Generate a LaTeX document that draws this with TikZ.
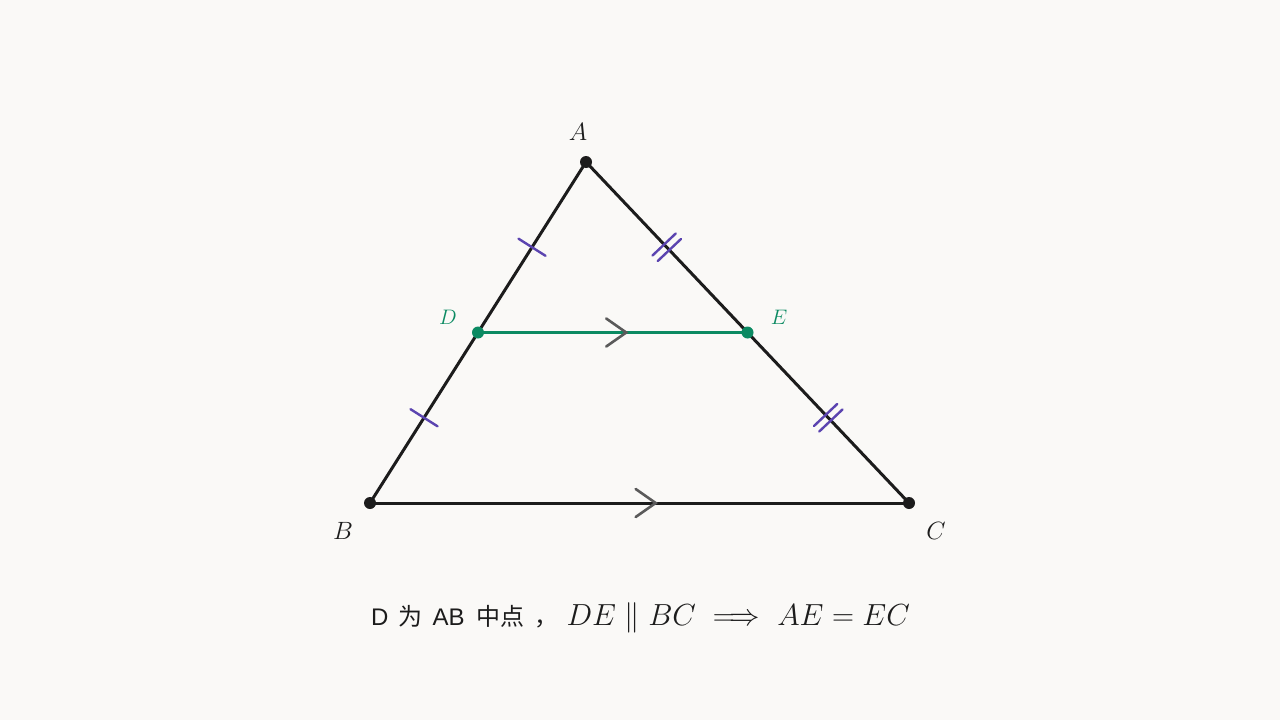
\RequirePackage{fix-cm}
\documentclass[tikz,border=0pt]{standalone}
\usepackage{amsmath}
\usepackage{fontspec}
\newfontfamily\cjk{Noto Sans CJK SC}
\newfontfamily\lsans{Liberation Sans}
\usetikzlibrary{decorations.markings,calc}
\definecolor{bgc}{HTML}{FAF9F7}
\definecolor{linec}{HTML}{1C1C1C}
\definecolor{tickc}{HTML}{5B44B0}
\definecolor{greenc}{HTML}{0B8A62}
\definecolor{chevc}{HTML}{5A5A5A}
\tikzset{
  side/.style={draw=linec, line width=3pt, line cap=round},
  midseg/.style={draw=greenc, line width=3pt},
  tickmark/.style={draw=tickc, line width=2.4pt},
  chev/.style={draw=chevc, line width=2.6pt, line cap=round, line join=miter},
  pt/.style={circle, fill=linec, inner sep=0pt, minimum size=12pt},
  gpt/.style={circle, fill=greenc, inner sep=0pt, minimum size=12pt},
  lbl/.style={font=\fontsize{25}{30}\selectfont, text=linec},
  glbl/.style={font=\fontsize{21}{25}\selectfont, text=greenc},
  onetick/.style={postaction={decorate}, decoration={markings,
     mark=at position 0.25 with {\draw[tickmark] (0,-16pt) -- (0,16pt);},
     mark=at position 0.75 with {\draw[tickmark] (0,-16pt) -- (0,16pt);}}},
  twotick/.style={postaction={decorate}, decoration={markings,
     mark=at position 0.25 with {\draw[tickmark] (-3.8pt,-16pt) -- (-3.8pt,16pt) (3.8pt,-16pt) -- (3.8pt,16pt);},
     mark=at position 0.75 with {\draw[tickmark] (-3.8pt,-16pt) -- (-3.8pt,16pt) (3.8pt,-16pt) -- (3.8pt,16pt);}}},
  chevmark/.style={postaction={decorate}, decoration={markings,
     mark=at position #1 with {\draw[chev] (-20pt,-14pt) -- (0,0) -- (-20pt,14pt);}}},
}
\begin{document}
\begin{tikzpicture}[x=1pt,y=-1pt]
\fill[bgc] (0,0) rectangle (1280,720);
\useasboundingbox (0,0) rectangle (1280,720);
\coordinate (A) at (586,162);
\coordinate (B) at (370,503);
\coordinate (C) at (909,503);
\coordinate (D) at ($(A)!0.5!(B)$);
\coordinate (E) at ($(A)!0.5!(C)$);
\path[side, onetick] (A) -- (B);
\path[side, twotick] (A) -- (C);
\path[side, chevmark=0.53] (B) -- (C);
\path[midseg, chevmark=0.55] (D) -- (E);
\node[pt] (pA) at (A) {};
\node[pt] (pB) at (B) {};
\node[pt] (pC) at (C) {};
\node[gpt] (pD) at (D) {};
\node[gpt] (pE) at (E) {};
\node[lbl] (lA) at (578,132) {$A$};
\node[lbl] (lB) at (343,531) {$B$};
\node[lbl] (lC) at (936,531) {$C$};
\node[glbl] (lD) at (448,317) {$D$};
\node[glbl] (lE) at (779,317) {$E$};
\node[anchor=base west, inner sep=0pt, text=linec] (cap) at (371,625)
  {\fontsize{24}{28}\selectfont{\lsans D}\hspace{10pt}{\cjk 为}\hspace{10pt}{\lsans AB}\hspace{12pt}{\cjk 中点}\hspace{10pt}{\cjk ，}\hspace{8pt}{\fontsize{30.5}{36}\selectfont $DE \parallel BC \implies AE = EC$}};
\end{tikzpicture}
\end{document}
